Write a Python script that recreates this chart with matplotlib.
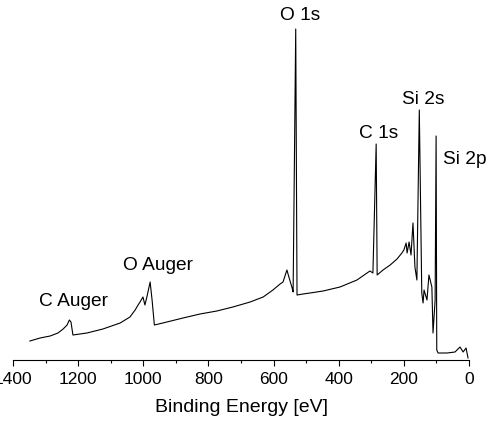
import matplotlib
matplotlib.use("Agg")
import matplotlib.pyplot as plt
from matplotlib.ticker import MultipleLocator

plt.rcParams['font.family'] = ['Liberation Sans', 'DejaVu Sans']

# Binding energy (eV) and intensity (arbitrary units)
energy = [1348, 1317, 1286, 1262, 1246, 1234, 1227, 1222, 1216, 1173, 1124, 1071,
          1041, 1025, 1016, 1010, 1001, 995, 989, 979, 973, 966, 940, 878, 826,
          774, 725, 672, 632, 602, 580, 571, 559, 553, 543, 540, 532, 528, 510,
          488, 448, 396, 344, 313, 304, 295, 285, 282, 264, 242, 221, 206, 200,
          193, 190, 184, 178, 172, 166, 160, 152.6, 145, 141, 138, 129, 123, 114,
          110.5, 104, 101, 99, 95, 67.5, 43, 27.6, 18, 9, 3]
intensity = [19, 22, 24, 27, 31, 35, 40, 38, 25, 27, 31, 37,
             43, 50, 55, 58, 63, 55, 63, 78, 60, 35, 37, 42, 46,
             49, 53, 58, 63, 70, 76, 78, 90, 83, 72, 68, 331, 65, 66,
             67, 69, 73, 80, 87, 89, 87, 216, 85, 90, 95, 101, 107, 110,
             117, 107, 118, 105, 137, 93, 80, 250, 67, 57, 70, 60, 85, 73,
             27, 60, 224, 10, 7, 7, 8, 13, 8, 12, 2]

peak_labels = ["O 1s", "C 1s", "Si 2s", "Si 2p", "O Auger", "C Auger"]
label_x = [519, 276, 141, 80, 955, 1213]
label_y = [345, 227, 260, 200, 94, 58]
label_ha = ["center", "center", "center", "left", "center", "center"]

fig = plt.figure(figsize=(4.86, 4.22), dpi=100)
ax = fig.add_axes([13/486, 62/422, 456/486, 350/422])
ax.plot(energy, intensity, color='black', linewidth=0.8)

for t, x, y, ha in zip(peak_labels, label_x, label_y, label_ha):
    ax.text(x, y, t, ha=ha, va='center', fontsize=13.8)

ax.set_xlim(1400, 0)
ax.set_ylim(0, 350)
ax.xaxis.set_major_locator(MultipleLocator(200))
ax.xaxis.set_minor_locator(MultipleLocator(100))
ax.tick_params(axis='x', which='major', direction='out', length=4.3, width=0.8, labelsize=12.5, pad=4)
ax.tick_params(axis='x', which='minor', direction='out', length=2.4, width=0.8)
ax.set_yticks([])
for s in ['top', 'right', 'left']:
    ax.spines[s].set_visible(False)
ax.spines['bottom'].set_linewidth(0.8)
ax.set_xlabel("Binding Energy [eV]", fontsize=14, labelpad=9)
ax.patch.set_alpha(0)

fig.savefig("out.png", dpi=100)
